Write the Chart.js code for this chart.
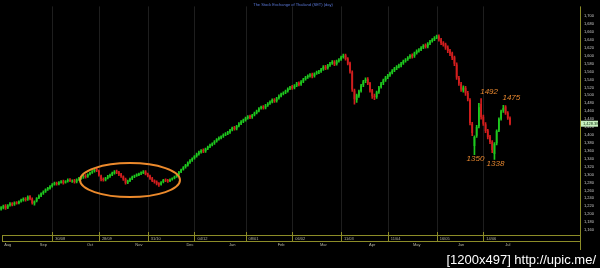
<!DOCTYPE html>
<html>
<head>
<meta charset="utf-8">
<script src="https://cdn.jsdelivr.net/npm/chart.js@4.4.1/dist/chart.umd.min.js"></script>
<style>
  html, body { margin: 0; padding: 0; background: #000; }
  #c { display: block; }
</style>
</head>
<body>
<canvas id="c" width="600" height="268"></canvas>
<script>
// SET index, daily candles
var opens = [
  1214,1216,1221,1216,1223,1227,1225,1230,1228,1233,
  1236,1239,1237,1245,1239,1227,1233,1241,1247,1253,
  1257,1263,1265,1271,1275,1279,1277,1280,1283,1280,
  1284,1287,1283,1285,1282,1288,1291,1293,1297,1295,
  1301,1305,1309,1314,1309,1297,1289,1287,1292,1296,
  1300,1303,1308,1306,1301,1295,1289,1280,1284,1290,
  1295,1297,1299,1303,1304,1308,1302,1297,1291,1285,
  1282,1278,1275,1281,1287,1286,1284,1288,1291,1295,
  1300,1307,1313,1319,1323,1331,1336,1341,1347,1352,
  1357,1362,1359,1366,1371,1375,1379,1384,1390,1393,
  1397,1401,1404,1407,1413,1419,1416,1423,1429,1434,
  1438,1443,1448,1445,1451,1456,1461,1468,1471,1469,
  1475,1480,1484,1489,1486,1493,1499,1504,1507,1511,
  1517,1522,1519,1525,1531,1528,1535,1541,1546,1550,
  1553,1549,1556,1559,1561,1566,1573,1569,1576,1581,
  1585,1579,1587,1591,1597,1601,1593,1581,1558,1512,
  1488,1499,1511,1526,1536,1541,1531,1513,1499,1496,
  1509,1521,1531,1539,1546,1551,1557,1563,1569,1573,
  1576,1581,1587,1591,1596,1602,1599,1607,1613,1616,
  1621,1627,1623,1631,1637,1641,1646,1649,1641,1633,
  1629,1621,1613,1606,1596,1578,1544,1529,1512,1519,
  1506,1488,1428,1372,1398,1422,1478,1446,1427,1411,
  1396,1383,1352,1379,1411,1441,1461,1472,1456,1443
];
var highs = [
  1219,1223,1224,1224,1229,1229,1231,1232,1234,1238,
  1241,1242,1246,1247,1241,1234,1242,1249,1254,1259,
  1264,1268,1272,1277,1281,1281,1282,1285,1286,1285,
  1289,1290,1287,1288,1289,1293,1295,1298,1300,1302,
  1306,1310,1315,1317,1311,1299,1292,1293,1298,1301,
  1306,1310,1311,1308,1303,1297,1291,1286,1291,1296,
  1299,1302,1304,1307,1310,1310,1304,1299,1293,1287,
  1284,1280,1282,1288,1289,1288,1289,1292,1296,1301,
  1308,1314,1320,1326,1332,1338,1342,1348,1354,1359,
  1363,1365,1367,1372,1377,1380,1386,1391,1395,1398,
  1403,1406,1409,1414,1420,1422,1424,1431,1436,1440,
  1445,1449,1450,1452,1458,1463,1469,1473,1474,1477,
  1482,1486,1491,1492,1495,1501,1506,1509,1513,1519,
  1523,1525,1527,1533,1534,1537,1543,1548,1552,1555,
  1556,1557,1561,1563,1568,1575,1576,1578,1583,1588,
  1588,1589,1593,1599,1604,1604,1595,1584,1562,1516,
  1503,1513,1528,1538,1544,1545,1533,1515,1503,1511,
  1523,1533,1541,1548,1553,1559,1565,1571,1575,1579,
  1583,1589,1593,1598,1603,1605,1609,1615,1618,1623,
  1628,1630,1633,1639,1643,1648,1652,1653,1644,1636,
  1632,1625,1616,1609,1599,1582,1548,1533,1524,1523,
  1510,1492,1432,1398,1424,1480,1492,1450,1431,1414,
  1399,1386,1381,1413,1443,1463,1475,1474,1459,1446
];
var lows = [
  1210,1213,1212,1214,1220,1221,1222,1225,1226,1230,
  1233,1233,1235,1236,1225,1223,1231,1239,1244,1250,
  1255,1260,1263,1268,1273,1273,1274,1278,1276,1278,
  1281,1282,1280,1278,1279,1285,1288,1290,1291,1293,
  1299,1303,1306,1307,1296,1284,1283,1284,1289,1293,
  1297,1301,1302,1297,1293,1285,1276,1277,1282,1287,
  1292,1295,1297,1300,1302,1299,1294,1288,1282,1278,
  1274,1270,1273,1279,1282,1280,1282,1286,1289,1293,
  1298,1305,1311,1316,1321,1328,1333,1339,1344,1349,
  1354,1355,1356,1363,1368,1372,1376,1382,1387,1390,
  1394,1398,1401,1404,1410,1412,1413,1420,1426,1431,
  1435,1440,1441,1442,1448,1453,1458,1465,1465,1466,
  1472,1477,1481,1482,1483,1490,1496,1501,1504,1508,
  1514,1515,1516,1522,1524,1525,1532,1538,1543,1546,
  1544,1546,1553,1555,1558,1563,1565,1566,1573,1578,
  1575,1576,1584,1588,1594,1589,1577,1556,1510,1478,
  1482,1495,1508,1522,1532,1527,1508,1492,1489,1492,
  1505,1518,1527,1535,1542,1548,1554,1560,1565,1569,
  1572,1578,1584,1588,1593,1594,1596,1604,1609,1613,
  1618,1619,1620,1628,1634,1638,1643,1637,1628,1624,
  1616,1608,1600,1590,1575,1540,1525,1510,1508,1500,
  1486,1425,1398,1350,1394,1418,1440,1424,1406,1390,
  1378,1355,1338,1375,1408,1437,1457,1452,1439,1425
];
var closes = [
  1217,1220,1215,1222,1226,1224,1229,1227,1232,1235,
  1238,1236,1244,1238,1228,1232,1240,1246,1252,1256,
  1262,1266,1270,1274,1278,1276,1280,1282,1279,1283,
  1286,1284,1284,1281,1287,1290,1292,1296,1294,1300,
  1304,1308,1312,1310,1298,1288,1286,1291,1295,1299,
  1304,1307,1305,1300,1296,1288,1279,1283,1289,1294,
  1297,1300,1302,1305,1307,1301,1296,1290,1284,1281,
  1277,1274,1280,1286,1285,1283,1287,1290,1294,1299,
  1306,1312,1318,1324,1330,1335,1340,1346,1351,1356,
  1360,1358,1365,1370,1374,1378,1383,1389,1392,1396,
  1400,1403,1406,1412,1418,1415,1422,1428,1433,1437,
  1442,1446,1444,1450,1455,1460,1467,1470,1468,1474,
  1479,1483,1488,1485,1492,1498,1503,1506,1510,1516,
  1520,1518,1524,1530,1527,1534,1540,1545,1549,1552,
  1548,1555,1558,1560,1565,1572,1568,1575,1580,1584,
  1578,1586,1590,1596,1600,1592,1580,1560,1515,1490,
  1500,1510,1525,1535,1540,1530,1512,1498,1495,1508,
  1520,1530,1538,1545,1550,1556,1562,1568,1572,1575,
  1580,1586,1590,1595,1600,1598,1606,1612,1615,1620,
  1625,1622,1630,1636,1640,1645,1648,1640,1632,1628,
  1620,1612,1605,1595,1580,1545,1530,1515,1520,1505,
  1490,1430,1405,1395,1420,1470,1445,1428,1410,1395,
  1382,1362,1378,1410,1440,1460,1468,1455,1442,1428.38
];

var yTicks = [1160,1180,1200,1220,1240,1260,1280,1300,1320,1340,1360,1380,1400,1420,
              1440,1460,1480,1500,1520,1540,1560,1580,1600,1620,1640,1660,1680,1700];

// bottom band
var gridIdx   = [23, 44, 66, 87, 110, 131, 153, 174, 196, 217];
var gridText  = ['30/08','28/09','31/10','04/12','08/01','06/02','11/03','11/04','16/05','14/06'];
var monthIdx  = [3, 19, 40, 62, 85, 104, 126, 145, 167, 187, 207, 228];
var monthText = ['Aug','Sep','Oct','Nov','Dec','Jan','Feb','Mar','Apr','May','Jun','Jul'];

// hand notes on the chart
var noteIdx  = [216, 226, 213, 222];
var noteText = ['1492', '1475', '1350', '1338'];

var slots = 261;
var labels = [];
for (var i = 0; i < slots; i++) labels.push(i);

var up = '#1ec81e', down = '#d21e1e';
var colors = closes.map(function(c, i) { return c >= opens[i] ? up : down; });

var olive = '#8c8c28';

var chartDeco = {
  id: 'chartDeco',
  beforeDraw: function(chart) {
    var ctx = chart.ctx;
    ctx.save();
    ctx.fillStyle = '#000';
    ctx.fillRect(0, 0, chart.width, chart.height);
    ctx.restore();
  },
  beforeDatasetsDraw: function(chart) {
    var ctx = chart.ctx, x = chart.scales.x, a = chart.chartArea;
    ctx.save();
    ctx.strokeStyle = '#1e1e1e';
    ctx.lineWidth = 1;
    gridIdx.forEach(function(g) {
      var px = Math.round(x.getPixelForValue(g)) + 0.5;
      ctx.beginPath();
      ctx.moveTo(px, a.top);
      ctx.lineTo(px, a.bottom);
      ctx.stroke();
    });
    ctx.restore();
  },
  afterDraw: function(chart) {
    var ctx = chart.ctx, x = chart.scales.x, y = chart.scales.y, a = chart.chartArea;
    ctx.save();

    // title
    ctx.fillStyle = '#5a78d8';
    ctx.font = '4px "Liberation Sans", Arial, sans-serif';
    ctx.textAlign = 'center';
    ctx.textBaseline = 'middle';
    ctx.fillText('The Stock Exchange of Thailand (SET) (day)', 293, 5);

    // time band
    ctx.strokeStyle = olive;
    ctx.lineWidth = 1;
    ctx.beginPath();
    ctx.moveTo(2, 235.5); ctx.lineTo(a.right, 235.5);
    ctx.moveTo(2, 241.5); ctx.lineTo(a.right, 241.5);
    ctx.moveTo(2.5, 235.5); ctx.lineTo(2.5, 241.5);
    ctx.moveTo(a.right + 0.5, a.top); ctx.lineTo(a.right + 0.5, 250);
    gridIdx.forEach(function(g) {
      var px = Math.round(x.getPixelForValue(g)) + 0.5;
      ctx.moveTo(px, a.bottom); ctx.lineTo(px, 241.5);
    });
    ctx.stroke();

    ctx.fillStyle = '#b4b4a0';
    ctx.font = '4px "Liberation Sans", Arial, sans-serif';
    ctx.textAlign = 'left';
    ctx.textBaseline = 'middle';
    gridIdx.forEach(function(g, k) {
      ctx.fillText(gridText[k], x.getPixelForValue(g) + 3, 238.5);
    });
    ctx.textAlign = 'center';
    monthIdx.forEach(function(m, k) {
      ctx.fillText(monthText[k], x.getPixelForValue(m), 245);
    });

    // circle round the sideways stretch
    ctx.strokeStyle = '#ec8a2c';
    ctx.lineWidth = 2;
    ctx.beginPath();
    ctx.ellipse(x.getPixelForValue(58), y.getPixelForValue(1286), 50, 17, 0, 0, Math.PI * 2);
    ctx.stroke();

    // notes
    ctx.fillStyle = '#e6862e';
    ctx.font = 'italic 8px "Liberation Sans", Arial, sans-serif';
    ctx.textAlign = 'center';
    ctx.textBaseline = 'middle';
    noteIdx.forEach(function(n, k) {
      var px = x.getPixelForValue(n);
      if (k < 2) {
        ctx.fillText(noteText[k], px + 8, y.getPixelForValue(highs[n]) - 7);
      } else {
        ctx.fillText(noteText[k], px + 1, y.getPixelForValue(lows[n]) + 4);
      }
    });

    // last price box
    var last = closes[closes.length - 1];
    var ly = y.getPixelForValue(last);
    ctx.fillStyle = '#c8f0c0';
    ctx.fillRect(a.right + 1, ly - 3, 17, 6);
    ctx.fillStyle = '#103010';
    ctx.font = '4px "Liberation Sans", Arial, sans-serif';
    ctx.textAlign = 'left';
    ctx.fillText(last.toLocaleString('en-US', { minimumFractionDigits: 2 }), a.right + 3, ly);

    // watermark
    ctx.fillStyle = '#ffffff';
    ctx.font = '13px "Liberation Sans", Arial, sans-serif';
    ctx.textAlign = 'right';
    ctx.textBaseline = 'alphabetic';
    ctx.fillText('[1200x497] http://upic.me/', 596, 264);

    ctx.restore();
  }
};

new Chart(document.getElementById('c'), {
  type: 'bar',
  data: {
    labels: labels,
    datasets: [
      {
        label: 'body',
        data: opens.map(function(o, i) { return [o, closes[i]]; }),
        backgroundColor: colors,
        barPercentage: 0.8,
        categoryPercentage: 1,
        grouped: false,
        order: 0
      },
      {
        label: 'wick',
        data: lows.map(function(l, i) { return [l, highs[i]]; }),
        backgroundColor: colors,
        barThickness: 1,
        grouped: false,
        order: 1
      }
    ]
  },
  options: {
    responsive: false,
    animation: false,
    devicePixelRatio: 1,
    layout: { padding: { left: 0, right: 0, top: 0, bottom: 36 } },
    plugins: { legend: { display: false }, tooltip: { enabled: false }, title: { display: false } },
    scales: {
      x: { display: false, offset: true },
      y: {
        position: 'right',
        min: 1155,
        max: 1724.5,
        grid: { display: false, drawTicks: false },
        border: { display: false },
        afterBuildTicks: function(scale) {
          scale.ticks = yTicks.map(function(v) { return { value: v }; });
        },
        afterFit: function(scale) { scale.width = 20; },
        ticks: {
          autoSkip: false,
          padding: 4,
          color: '#c8c8c8',
          font: { size: 4, family: '"Liberation Sans", Arial, sans-serif' },
          callback: function(v) { return v.toLocaleString('en-US'); }
        }
      }
    }
  },
  plugins: [chartDeco]
});
</script>
</body>
</html>
